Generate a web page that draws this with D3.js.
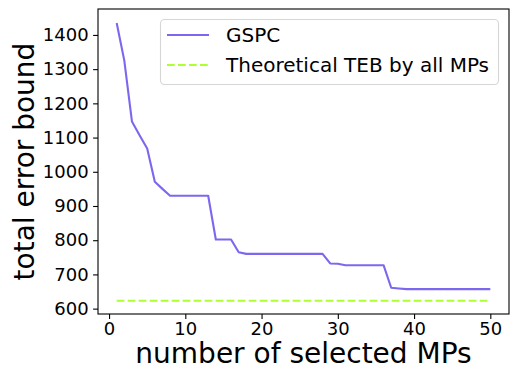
<!DOCTYPE html>
<html>
<head>
<meta charset="utf-8">
<script src="https://cdn.jsdelivr.net/npm/d3@7"></script>
<style>
  html, body { margin: 0; padding: 0; background: #fff; }
  svg { display: block; font-family: "DejaVu Sans", sans-serif; }
</style>
</head>
<body>
<svg id="chart" width="522" height="374"></svg>
<script>
// Number of selected MPs (x) and total error bound for each count
const selectedMPs = [1, 2, 3, 4, 5, 6, 7, 8, 9, 10,
  11, 12, 13, 14, 15, 16, 17, 18, 19, 20,
  21, 22, 23, 24, 25, 26, 27, 28, 29, 30,
  31, 32, 33, 34, 35, 36, 37, 38, 39, 40,
  41, 42, 43, 44, 45, 46, 47, 48, 49, 50];
const gspcBound = [1435, 1325, 1147, 1107, 1068, 971, 950, 930, 930, 930,
  930, 930, 930, 802, 802, 802, 765, 760, 760, 760,
  760, 760, 760, 760, 760, 760, 760, 760, 732, 731,
  727, 727, 727, 727, 727, 727, 661, 659, 657, 657,
  657, 657, 657, 657, 657, 657, 657, 657, 657, 657];
const tebAllMPs = [623, 623, 623, 623, 623, 623, 623, 623, 623, 623,
  623, 623, 623, 623, 623, 623, 623, 623, 623, 623,
  623, 623, 623, 623, 623, 623, 623, 623, 623, 623,
  623, 623, 623, 623, 623, 623, 623, 623, 623, 623,
  623, 623, 623, 623, 623, 623, 623, 623, 623, 623];
const xTicks = [0, 10, 20, 30, 40, 50];
const yTicks = [600, 700, 800, 900, 1000, 1100, 1200, 1300, 1400];
const seriesNames = ["GSPC", "Theoretical TEB by all MPs"];
const seriesColors = ["#7b68ee", "#adff2f"];

const svg = d3.select("#chart");
const plot = { left: 98, right: 509, top: 9, bottom: 314 };

const x = d3.scaleLinear().domain([-1.45, 52.45]).range([plot.left, plot.right]);
const y = d3.scaleLinear().domain([584.3, 1475.8]).range([plot.bottom, plot.top]);

const line = d3.line().x(d => x(d[0])).y(d => y(d[1]));

// TEB reference line (dashed)
svg.append("path")
  .datum(selectedMPs.map((m, i) => [m, tebAllMPs[i]]))
  .attr("d", line)
  .attr("fill", "none")
  .attr("stroke", seriesColors[1])
  .attr("stroke-width", 2.1)
  .attr("stroke-dasharray", "7.7,3.3");

// GSPC curve
svg.append("path")
  .datum(selectedMPs.map((m, i) => [m, gspcBound[i]]))
  .attr("d", line)
  .attr("fill", "none")
  .attr("stroke", seriesColors[0])
  .attr("stroke-width", 2.1)
  .attr("stroke-linejoin", "round");

// Axes
const xAxis = svg.append("g")
  .attr("transform", `translate(0,${plot.bottom})`)
  .call(d3.axisBottom(x).tickValues(xTicks).tickSize(4.9).tickPadding(3.5).tickFormat(d3.format("d")));
const yAxis = svg.append("g")
  .attr("transform", `translate(${plot.left},0)`)
  .call(d3.axisLeft(y).tickValues(yTicks).tickSize(4.9).tickPadding(4.5).tickFormat(d3.format("d")));
[xAxis, yAxis].forEach(g => {
  g.select(".domain").remove();
  g.selectAll(".tick line").attr("stroke", "#000").attr("stroke-width", 1.1);
  g.selectAll(".tick text").attr("fill", "#000").style("font-size", "18px")
    .style("font-family", "'DejaVu Sans', sans-serif");
});

// Frame
svg.append("rect")
  .attr("x", plot.left).attr("y", plot.top)
  .attr("width", plot.right - plot.left).attr("height", plot.bottom - plot.top)
  .attr("fill", "none").attr("stroke", "#000").attr("stroke-width", 1.1);

// Axis titles
svg.append("text")
  .attr("x", (plot.left + plot.right) / 2).attr("y", 363)
  .attr("text-anchor", "middle")
  .style("font-size", "28px")
  .text("number of selected MPs");
svg.append("text")
  .attr("transform", `translate(34,${(plot.top + plot.bottom) / 2}) rotate(-90)`)
  .attr("text-anchor", "middle")
  .style("font-size", "28px")
  .text("total error bound");

// Legend
const legend = svg.append("g");
legend.append("rect")
  .attr("x", 160.5).attr("y", 19.5).attr("width", 338).attr("height", 65)
  .attr("rx", 4).attr("ry", 4)
  .attr("fill", "#fff").attr("fill-opacity", 0.8)
  .attr("stroke", "#d6d6d6").attr("stroke-width", 1.1);
const legendY = [35, 65];
seriesNames.forEach((name, i) => {
  legend.append("line")
    .attr("x1", 167).attr("x2", 209)
    .attr("y1", legendY[i]).attr("y2", legendY[i])
    .attr("stroke", seriesColors[i]).attr("stroke-width", 2.1)
    .attr("stroke-dasharray", i === 1 ? "7.7,3.3" : null);
  legend.append("text")
    .attr("x", 226).attr("y", legendY[i])
    .attr("dy", "0.36em")
    .style("font-size", "20px")
    .text(name);
});
</script>
</body>
</html>
